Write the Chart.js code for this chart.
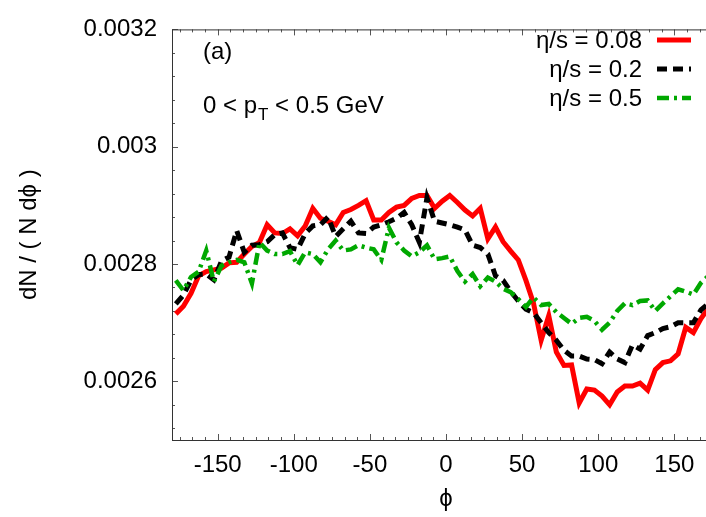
<!DOCTYPE html>
<html lang="en">
<head>
  <meta charset="UTF-8">
  <title>dN / (N dphi)</title>
  <script src="https://cdn.jsdelivr.net/npm/chart.js"></script>
  <style>
    html, body { margin: 0; padding: 0; background: #ffffff; overflow: hidden; width: 706px; height: 517px; }
    #wrap { width: 740px; height: 517px; }
  </style>
</head>
<body>
  <div id="wrap"><canvas id="chart" width="740" height="517"></canvas></div>

<script>
  // azimuthal bin centres (degrees)
  const phi = [-177.5, -172.5, -167.5, -162.5, -157.5, -152.5, -147.5, -142.5, -137.5, -132.5,
    -127.5, -122.5, -117.5, -112.5, -107.5, -102.5, -97.5, -92.5, -87.5, -82.5,
    -77.5, -72.5, -67.5, -62.5, -57.5, -52.5, -47.5, -42.5, -37.5, -32.5,
    -27.5, -22.5, -17.5, -12.5, -7.5, -2.5, 2.5, 7.5, 12.5, 17.5,
    22.5, 27.5, 32.5, 37.5, 42.5, 47.5, 52.5, 57.5, 62.5, 67.5,
    72.5, 77.5, 82.5, 87.5, 92.5, 97.5, 102.5, 107.5, 112.5, 117.5,
    122.5, 127.5, 132.5, 137.5, 142.5, 147.5, 152.5, 157.5, 162.5, 167.5,
    172.5, 177.5];

  // eta/s = 0.08
  const visc008 = [0.002715, 0.002728, 0.002750, 0.002780, 0.002787, 0.002790, 0.002793, 0.002802, 0.002803, 0.002817,
    0.002830, 0.002837, 0.002867, 0.002853, 0.002852, 0.002860, 0.002848, 0.002865, 0.002895, 0.002878,
    0.002873, 0.002867, 0.002888, 0.002893, 0.002900, 0.002908, 0.002875, 0.002875, 0.002888, 0.002897,
    0.002900, 0.002912, 0.002917, 0.002917, 0.002895, 0.002907, 0.002917, 0.002905, 0.002892, 0.002882,
    0.002895, 0.002843, 0.002863, 0.002838, 0.002822, 0.002807, 0.002772, 0.002733, 0.002670, 0.002712,
    0.002650, 0.002627, 0.002628, 0.002563, 0.002587, 0.002585, 0.002575, 0.002560, 0.002582, 0.002592,
    0.002592, 0.002597, 0.002585, 0.002620, 0.002632, 0.002635, 0.002647, 0.002692, 0.002683, 0.002707,
    0.002725, 0.002733];

  // eta/s = 0.2
  const visc02 = [0.002732, 0.002747, 0.002773, 0.002782, 0.002783, 0.002773, 0.002805, 0.002812, 0.002857, 0.002820,
    0.002832, 0.002833, 0.002838, 0.002850, 0.002853, 0.002828, 0.002825, 0.002852, 0.002865, 0.002867,
    0.002880, 0.002847, 0.002860, 0.002873, 0.002853, 0.002852, 0.002863, 0.002867, 0.002872, 0.002878,
    0.002888, 0.002867, 0.002837, 0.002913, 0.002873, 0.002870, 0.002867, 0.002863, 0.002858, 0.002832,
    0.002828, 0.002817, 0.002780, 0.002772, 0.002753, 0.002737, 0.002723, 0.002717, 0.002700, 0.002683,
    0.002670, 0.002653, 0.002643, 0.002643, 0.002638, 0.002637, 0.002630, 0.002650, 0.002638, 0.002632,
    0.002662, 0.002655, 0.002678, 0.002683, 0.002690, 0.002693, 0.002700, 0.002700, 0.002700, 0.002722,
    0.002733, 0.002737];

  // eta/s = 0.5
  const visc05 = [0.002772, 0.002755, 0.002778, 0.002787, 0.002823, 0.002770, 0.002797, 0.002803, 0.002807, 0.002803,
    0.002767, 0.002837, 0.002823, 0.002817, 0.002817, 0.002822, 0.002798, 0.002820, 0.002817, 0.002803,
    0.002825, 0.002840, 0.002823, 0.002825, 0.002832, 0.002828, 0.002825, 0.002807, 0.002862, 0.002837,
    0.002823, 0.002813, 0.002820, 0.002832, 0.002808, 0.002810, 0.002813, 0.002788, 0.002770, 0.002783,
    0.002762, 0.002777, 0.002770, 0.002758, 0.002752, 0.002740, 0.002727, 0.002743, 0.002730, 0.002732,
    0.002718, 0.002708, 0.002698, 0.002708, 0.002710, 0.002703, 0.002688, 0.002700, 0.002720, 0.002733,
    0.002730, 0.002737, 0.002738, 0.002720, 0.002733, 0.002745, 0.002757, 0.002753, 0.002748, 0.002768,
    0.002780, 0.002783];

  const seriesLabels = ['η/s = 0.08', 'η/s = 0.2', 'η/s = 0.5'];
  const xTicks = [-150, -100, -50, 0, 50, 100, 150];
  const yTicks = [0.0026, 0.0028, 0.003, 0.0032];

  const FONT = '"Liberation Sans", Arial, sans-serif';

  function pts(vals) {
    return phi.map((p, i) => ({ x: p, y: vals[i] }));
  }

  // frame + inward gnuplot-like tick marks
  const framePlugin = {
    id: 'frame',
    beforeDatasetsDraw(chart) {
      const { ctx, chartArea: a, scales: { x, y } } = chart;
      ctx.save();
      ctx.strokeStyle = '#555';
      ctx.lineWidth = 1;
      ctx.beginPath();
      // minor x ticks, 6 per 50 degrees
      for (let v = -175; v <= 175.01; v += 50 / 6) {
        const px = Math.round(x.getPixelForValue(v)) + 0.5;
        const major = Math.abs(v / 50 - Math.round(v / 50)) < 1e-6;
        const len = major ? 6 : 3;
        ctx.moveTo(px, a.bottom); ctx.lineTo(px, a.bottom - len);
        ctx.moveTo(px, a.top); ctx.lineTo(px, a.top + len);
      }
      for (let v = 0.00252; v <= 0.0032001; v += 0.00004) {
        const py = Math.round(y.getPixelForValue(v)) + 0.5;
        const major = Math.abs(v / 0.0002 - Math.round(v / 0.0002)) < 1e-6;
        const len = major ? 6 : 3;
        ctx.moveTo(a.left, py); ctx.lineTo(a.left + len, py);
        ctx.moveTo(a.right, py); ctx.lineTo(a.right - len, py);
      }
      ctx.stroke();
      ctx.strokeStyle = '#333';
      ctx.strokeRect(a.left + 0.5, a.top + 0.5, a.right - a.left, a.bottom - a.top);
      ctx.restore();
    },
    afterDraw(chart) {
      const { ctx } = chart;
      ctx.save();
      ctx.fillStyle = '#000';
      ctx.textBaseline = 'alphabetic';
      ctx.font = '24px ' + FONT;
      ctx.textAlign = 'left';
      ctx.fillText('(a)', 203, 59);

      // 0 < p_T < 0.5 GeV
      let tx = 203;
      const part1 = '0 < p';
      ctx.fillText(part1, tx, 113);
      tx += ctx.measureText(part1).width;
      ctx.font = '17px ' + FONT;
      ctx.fillText('T', tx + 1, 120);
      tx += ctx.measureText('T').width + 1;
      ctx.font = '24px ' + FONT;
      ctx.fillText(' < 0.5 GeV', tx, 113);

      // legend: text right aligned, sample line on the right
      const rows = [40, 69, 98];
      ctx.textAlign = 'right';
      chart.data.datasets.forEach((ds, i) => {
        ctx.fillStyle = '#000';
        ctx.font = '24px ' + FONT;
        ctx.fillText(seriesLabels[i], 642, rows[i] + 8);
        ctx.strokeStyle = ds.borderColor;
        ctx.lineWidth = ds.borderWidth;
        ctx.setLineDash(ds.borderDash || []);
        ctx.beginPath();
        ctx.moveTo(657, rows[i]);
        ctx.lineTo(691, rows[i]);
        ctx.stroke();
      });
      ctx.restore();
    }
  };

  new Chart(document.getElementById('chart'), {
    type: 'line',
    data: {
      datasets: [{
        label: seriesLabels[0],
        data: pts(visc008),
        borderColor: '#ff0000',
        borderWidth: 5,
        order: 3
      }, {
        label: seriesLabels[1],
        data: pts(visc02),
        borderColor: '#000000',
        borderWidth: 5,
        borderDash: [10, 6],
        order: 2
      }, {
        label: seriesLabels[2],
        data: pts(visc05),
        borderColor: '#00a800',
        borderWidth: 4.5,
        borderDash: [12, 5, 3, 5],
        order: 1
      }]
    },
    options: {
      responsive: false,
      animation: false,
      layout: { padding: { left: 0, top: 20, right: 20, bottom: 0 } },
      datasets: {
        line: {
          pointRadius: 0,
          tension: 0,
          fill: false,
          borderJoinStyle: 'miter',
          borderCapStyle: 'butt'
        }
      },
      plugins: {
        legend: { display: false },
        tooltip: { enabled: false }
      },
      scales: {
        x: {
          type: 'linear',
          min: -180,
          max: 180,
          grid: { display: false, drawTicks: false },
          border: { display: false },
          afterBuildTicks: (s) => { s.ticks = xTicks.map(v => ({ value: v })); },
          afterFit: (s) => { s.height = 77; },
          ticks: {
            color: '#000',
            padding: 11,
            maxRotation: 0,
            autoSkip: false,
            font: { family: FONT, size: 24 },
            callback: (v) => String(v)
          },
          title: {
            display: true,
            text: 'ϕ',
            color: '#000',
            font: { family: FONT, size: 24 },
            padding: { top: 0, bottom: 3 }
          }
        },
        y: {
          type: 'linear',
          min: 0.0025,
          max: 0.0032,
          grid: { display: false, drawTicks: false },
          border: { display: false },
          afterBuildTicks: (s) => { s.ticks = yTicks.map(v => ({ value: v })); },
          afterFit: (s) => { s.width = 172; },
          ticks: {
            color: '#000',
            padding: 15,
            autoSkip: false,
            font: { family: FONT, size: 24 },
            callback: (v) => String(v)
          },
          title: {
            display: true,
            text: 'dN / ( N dϕ )',
            color: '#000',
            font: { family: FONT, size: 24 },
            padding: { top: 15, bottom: 0 }
          }
        }
      }
    },
    plugins: [framePlugin]
  });
</script>
</body>
</html>
